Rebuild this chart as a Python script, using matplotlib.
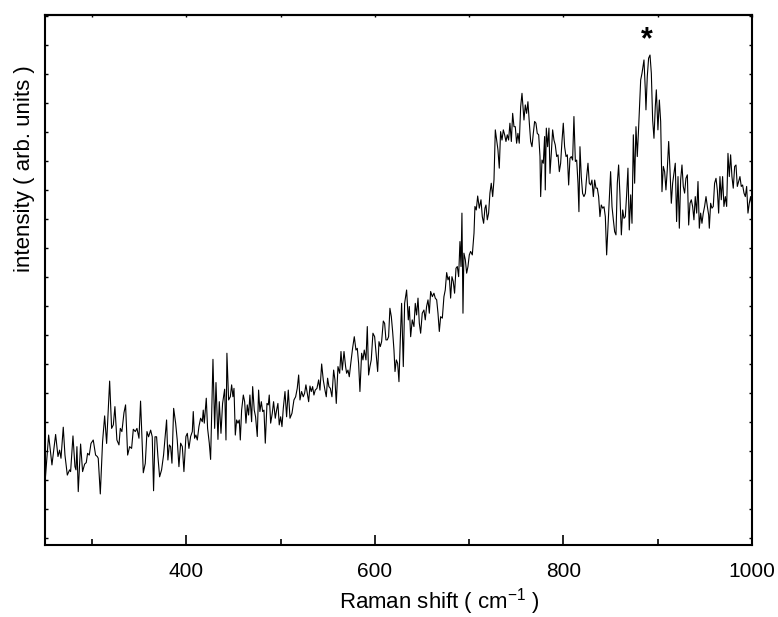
import matplotlib
matplotlib.use("Agg")
import matplotlib.pyplot as plt
from matplotlib.ticker import MultipleLocator, NullFormatter

plt.rcParams['font.family'] = ['Liberation Sans', 'DejaVu Sans']
plt.rcParams['mathtext.fontset'] = 'custom'
plt.rcParams['mathtext.rm'] = 'Liberation Sans'

# %% spectrum (x in cm-1, y in arb. units)
shift_a = [250.0, 253.9, 257.4, 261.3, 263.8, 265.5, 267.0, 269.4, 271.2, 273.7,
           276.1, 277.2, 279.7, 281.8, 282.9, 283.9, 285.3, 287.8, 289.9, 292.1,
           293.8, 295.2, 297.0, 298.8, 301.2, 303.7, 305.5, 306.5, 308.7, 311.1,
           313.3, 315.4, 318.6, 320.7, 322.5, 324.2, 326.3, 328.5, 329.9, 331.6,
           333.8, 335.5, 337.7, 339.8, 341.9, 343.7, 345.8, 347.6, 349.7, 351.4,
           354.3, 356.4, 358.2, 359.9, 362.1, 363.8, 365.2, 366.7, 368.4, 369.8,
           371.6, 373.7, 375.8, 377.6]
int_a = [188, 354, 251, 356, 280, 302, 274, 381, 285, 216,
         234, 228, 351, 245, 234, 314, 159, 323, 228, 254,
         259, 291, 285, 325, 337, 285, 280, 274, 151, 331,
         420, 325, 540, 377, 389, 452, 337, 320, 377, 366,
         431, 458, 285, 314, 308, 374, 366, 377, 343, 471,
         224, 256, 366, 348, 371, 348, 162, 348, 348, 280,
         210, 234, 285, 354]

shift_b = [379.0, 380.4, 381.9, 383.3, 384.7, 386.5, 388.6, 390.3, 392.1, 393.9,
           395.7, 397.4, 399.5, 401.0, 402.7, 404.5, 406.3, 407.3, 408.7, 410.1,
           411.6, 413.3, 415.1, 416.9, 417.9, 419.0, 421.1, 422.5, 424.3, 425.7,
           428.2, 430.0, 431.4, 433.5, 434.9, 436.7, 438.4, 440.6, 442.0, 443.0,
           444.8, 446.6, 448.0, 449.4, 450.5, 451.9, 453.3, 454.7, 456.1, 457.2,
           458.6, 460.4, 461.8, 463.2, 464.6, 466.0, 467.4, 469.2, 470.3, 472.0,
           473.4, 475.2, 476.6, 478.0, 479.5, 480.9, 482.3, 483.7, 485.5, 486.9,
           487.9, 489.4, 491.1, 492.5, 494.3, 495.7, 497.1, 498.5, 500.0, 501.4,
           502.8]
int_b = [406, 268, 320, 314, 257, 446, 395, 337, 245, 326,
         314, 228, 349, 360, 308, 349, 366, 435, 343, 354,
         337, 383, 412, 400, 440, 395, 481, 377, 326, 270,
         615, 377, 535, 339, 469, 360, 463, 512, 337, 636,
         475, 486, 527, 486, 515, 354, 406, 395, 406, 337,
         440, 492, 469, 395, 458, 423, 492, 400, 521, 440,
         417, 349, 509, 435, 469, 435, 440, 326, 463, 458,
         492, 395, 429, 469, 412, 440, 463, 389, 417, 383,
         446]

shift_c = [504.6, 506.3, 508.1, 509.9, 512.0, 514.1, 515.9, 517.6, 519.1, 520.5,
           522.2, 524.0, 525.4, 526.8, 528.3, 529.7, 531.1, 532.5, 533.9, 535.3,
           536.7, 538.5, 540.3, 541.7, 543.5, 545.2, 547.0, 548.4, 549.8, 551.2,
           552.7, 554.4, 556.2, 557.6, 559.0, 560.8, 562.6, 564.0, 565.4, 567.2,
           568.9, 570.0, 571.4, 572.8, 574.2, 576.3, 578.1, 579.9, 581.3, 582.7,
           584.1, 585.9, 587.3, 588.7, 590.5, 591.9, 593.3, 594.7, 596.1, 597.9,
           599.7, 601.1, 602.9, 604.3, 605.7, 607.1, 608.9, 610.3, 611.7, 613.1,
           614.5, 615.9, 617.4, 618.8, 620.2, 621.3, 622.7, 624.1, 625.5, 626.9,
           628.3, 630.1, 631.5]
int_c = [504, 417, 509, 412, 429, 475, 486, 515, 561, 475,
         504, 486, 498, 527, 498, 469, 523, 504, 521, 492,
         509, 515, 544, 509, 599, 544, 509, 486, 550, 521,
         515, 486, 578, 544, 463, 590, 567, 642, 578, 642,
         590, 567, 578, 555, 596, 653, 693, 647, 653, 601,
         504, 636, 613, 647, 613, 728, 561, 590, 613, 705,
         693, 642, 573, 676, 659, 676, 747, 739, 682, 682,
         693, 791, 762, 710, 647, 573, 613, 601, 538, 682,
         808, 590, 808]

shift_d = [633.6, 635.4, 636.5, 637.9, 639.6, 641.4, 642.8, 644.2, 645.7, 647.1,
           648.5, 650.2, 652.0, 653.4, 654.8, 656.3, 657.7, 659.1, 660.9, 662.6,
           664.0, 665.5, 666.9, 668.3, 669.7, 671.5, 673.2, 674.6, 676.1, 677.5,
           678.9, 680.3, 681.7, 683.1, 684.5, 686.0, 687.4, 688.8, 690.2, 691.3,
           692.3, 693.4, 694.4, 695.9, 697.3, 698.7, 700.1, 701.5, 703.3, 705.1,
           706.1, 707.5, 709.0, 710.7, 712.5, 713.9, 715.3, 716.7, 717.8, 719.2,
           720.6, 722.0, 723.4, 724.9, 726.3, 727.7, 729.1, 730.5, 731.9, 733.3,
           734.8, 736.2, 737.6, 739.0, 740.4, 741.8, 743.2, 744.7, 746.1, 747.5,
           748.9, 750.3, 751.7, 753.1, 754.6, 756.0]
int_d = [854, 751, 797, 693, 751, 728, 808, 768, 826, 739,
         705, 774, 785, 751, 797, 820, 774, 849, 831, 843,
         826, 820, 774, 711, 762, 757, 831, 854, 914, 889,
         900, 826, 900, 883, 843, 929, 935, 900, 1021, 935,
         1119, 774, 981, 958, 912, 935, 975, 987, 975, 1050,
         1142, 1130, 1178, 1136, 1165, 1107, 1084, 1136, 1147, 1096,
         1119, 1188, 1222, 1176, 1234, 1406, 1371, 1337, 1274, 1400,
         1371, 1406, 1389, 1366, 1389, 1371, 1429, 1366, 1463, 1417,
         1417, 1360, 1394, 1360, 1486, 1532]

shift_e = [758.1, 759.5, 760.9, 762.3, 763.8, 765.2, 766.6, 768.0, 769.4, 770.8,
           772.2, 773.7, 775.1, 775.8, 777.2, 778.6, 780.0, 780.7, 781.8, 783.2,
           784.6, 785.7, 787.1, 788.5, 789.9, 791.3, 792.8, 794.2, 795.6, 797.0,
           798.4, 799.8, 801.2, 802.7, 804.1, 805.5, 806.9, 808.3, 809.7, 811.1,
           812.6, 814.0, 815.4, 816.4, 817.5, 818.9, 820.3, 821.7, 823.2, 824.6,
           826.0, 827.4, 828.8, 830.2, 831.7, 833.1, 834.5, 835.9, 837.3, 838.7,
           840.1, 841.6, 843.0, 844.4, 845.8, 847.2, 848.6, 850.0, 851.5, 852.9,
           854.3, 855.7, 857.1, 858.5, 859.9, 861.4, 862.8, 864.2, 865.6, 867.0,
           868.4, 869.8, 871.3, 872.7, 874.1, 875.5, 876.9, 878.3, 879.7]
int_e = [1440, 1492, 1463, 1503, 1429, 1366, 1348, 1394, 1435, 1429,
         1394, 1389, 1314, 1176, 1302, 1291, 1383, 1199, 1412, 1348,
         1412, 1256, 1325, 1406, 1371, 1354, 1314, 1320, 1262, 1291,
         1366, 1429, 1348, 1314, 1320, 1216, 1308, 1314, 1302, 1452,
         1297, 1302, 1222, 1124, 1348, 1245, 1187, 1176, 1187, 1245,
         1291, 1222, 1216, 1233, 1176, 1233, 1205, 1205, 1176, 1107,
         1147, 1136, 1141, 1107, 975, 1073, 1164, 1262, 1141, 1096,
         1055, 1044, 1222, 1285, 1182, 1044, 1130, 1101, 1107, 1182,
         1274, 1061, 1182, 1084, 1389, 1222, 1417, 1314, 1412]

shift_f = [881.9, 883.3, 885.4, 886.8, 887.5, 888.9, 890.3, 891.8, 893.2, 894.6,
           896.0, 897.4, 898.5, 899.5, 900.2, 901.7, 903.1, 904.5, 905.9, 907.3,
           908.7, 910.1, 911.6, 913.0, 914.4, 915.8, 917.2, 918.6, 920.0, 921.5,
           922.9, 924.3, 925.7, 927.1, 928.5, 929.9, 931.4, 932.8, 934.2, 935.6,
           937.0, 938.4, 939.8, 941.3, 942.7, 944.1, 945.5, 946.9, 948.3, 949.7,
           951.2, 952.6, 954.0, 954.7, 956.1, 957.5, 958.9, 960.3, 961.8, 963.2,
           964.6, 966.0, 967.4, 968.8, 970.2, 971.7, 973.1, 974.5, 975.9, 977.3,
           978.7, 980.1, 981.6, 983.0, 984.4, 985.8, 987.2, 988.6, 990.0, 991.5,
           992.9, 994.3, 995.7, 997.1, 998.5, 999.9]
int_f = [1578, 1601, 1647, 1544, 1475, 1590, 1653, 1664, 1601, 1440,
         1377, 1486, 1544, 1463, 1406, 1509, 1435, 1193, 1280, 1262,
         1199, 1268, 1366, 1268, 1153, 1222, 1256, 1291, 1090, 1245,
         1067, 1234, 1285, 1211, 1188, 1239, 1251, 1078, 1153, 1165,
         1142, 1096, 1176, 1119, 1228, 1067, 1119, 1084, 1119, 1142,
         1176, 1142, 1113, 1067, 1153, 1136, 1142, 1222, 1239, 1199,
         1119, 1245, 1165, 1245, 1142, 1176, 1142, 1325, 1245, 1320,
         1245, 1205, 1280, 1285, 1211, 1228, 1245, 1211, 1216, 1188,
         1176, 1211, 1119, 1153, 1176, 1142]

raman_shift = shift_a + shift_b + shift_c + shift_d + shift_e + shift_f
intensity = int_a + int_b + int_c + int_d + int_e + int_f

star_x, star_y = 888, 1716

# %% plot
fig = plt.figure(figsize=(7.78, 6.17), dpi=100)
ax = fig.add_axes([0.0578, 0.1167, 0.9088, 0.859])

ax.plot(raman_shift, intensity, color='black', lw=0.8)
ax.text(star_x, star_y, '*', fontsize=22, fontweight='bold', ha='center', va='center')

ax.set_xlim(250, 1000)
ax.set_ylim(-25, 1802)

ax.xaxis.set_major_locator(MultipleLocator(200))
ax.xaxis.set_minor_locator(MultipleLocator(100))
ax.yaxis.set_major_locator(MultipleLocator(100))
ax.yaxis.set_major_formatter(NullFormatter())

ax.tick_params(axis='x', which='major', direction='in', length=7, width=1.2,
               labelsize=15, pad=12, top=False)
ax.tick_params(axis='x', which='minor', direction='in', length=4.5, width=1.2, top=False)
ax.tick_params(axis='y', which='major', direction='in', length=2.5, width=1.0,
               left=True, right=True)

top = ax.secondary_xaxis('top')
top.xaxis.set_major_locator(MultipleLocator(100))
top.xaxis.set_major_formatter(NullFormatter())
top.tick_params(direction='in', length=1.5, width=1.0)
top.spines['top'].set_linewidth(1.5)

for s in ax.spines.values():
    s.set_linewidth(1.5)

ax.set_xlabel('Raman shift ( cm$^{\\mathregular{-1}}$ )', fontsize=16)
ax.set_ylabel('intensity ( arb. units )', fontsize=16)
ax.xaxis.set_label_coords(0.558, -0.078)
ax.yaxis.set_label_coords(-0.014, 0.71)

fig.savefig('out.png', dpi=100)
